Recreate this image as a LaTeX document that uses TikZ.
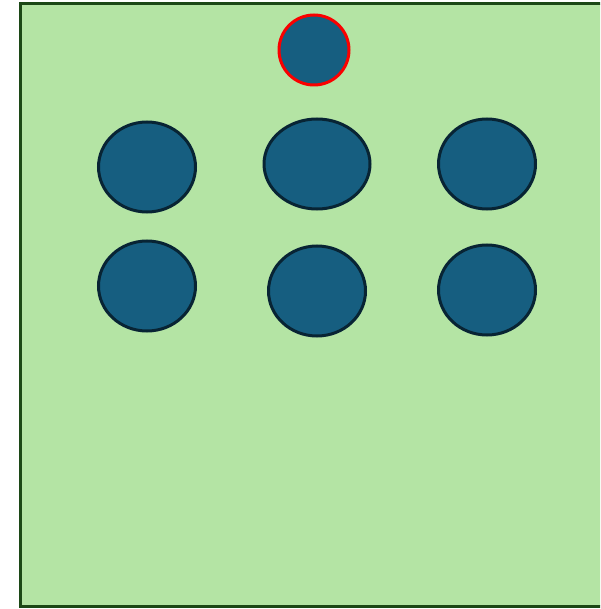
\documentclass[tikz,border=0pt]{standalone}
\usepackage{tikz}
\usetikzlibrary{shapes.geometric}
\definecolor{boardgreen}{RGB}{180, 228, 164}
\definecolor{boardedge}{RGB}{28, 72, 22}
\definecolor{seatblue}{RGB}{22, 94, 128}
\definecolor{seatedge}{RGB}{8, 36, 52}
\definecolor{headred}{RGB}{250, 0, 0}

\begin{document}
\begin{tikzpicture}[x=1pt, y=1pt,
    seat/.style={ellipse, draw=seatedge, fill=seatblue, line width=3pt, inner sep=0pt},
    head/.style={circle, draw=headred, fill=seatblue, line width=3pt, inner sep=0pt, minimum size=70pt}]
    \useasboundingbox (0,0) rectangle (600,-609);
    \clip (0,0) rectangle (600,-609);
    \draw[boardedge, fill=boardgreen, line width=3pt] (20,-4) rectangle (640,-606);
    \node[head] (lead) at (314,-50) {};
    % first row
    \node[seat, minimum width=97pt, minimum height=90pt] (s11) at (147,-167) {};
    \node[seat, minimum width=106pt, minimum height=90pt] (s12) at (317,-164) {};
    \node[seat, minimum width=97pt, minimum height=90pt] (s13) at (487,-164) {};
    % second row
    \node[seat, minimum width=97pt, minimum height=90pt] (s21) at (147,-286) {};
    \node[seat, minimum width=97pt, minimum height=90pt] (s22) at (317,-291) {};
    \node[seat, minimum width=97pt, minimum height=90pt] (s23) at (487,-290) {};
\end{tikzpicture}
\end{document}
